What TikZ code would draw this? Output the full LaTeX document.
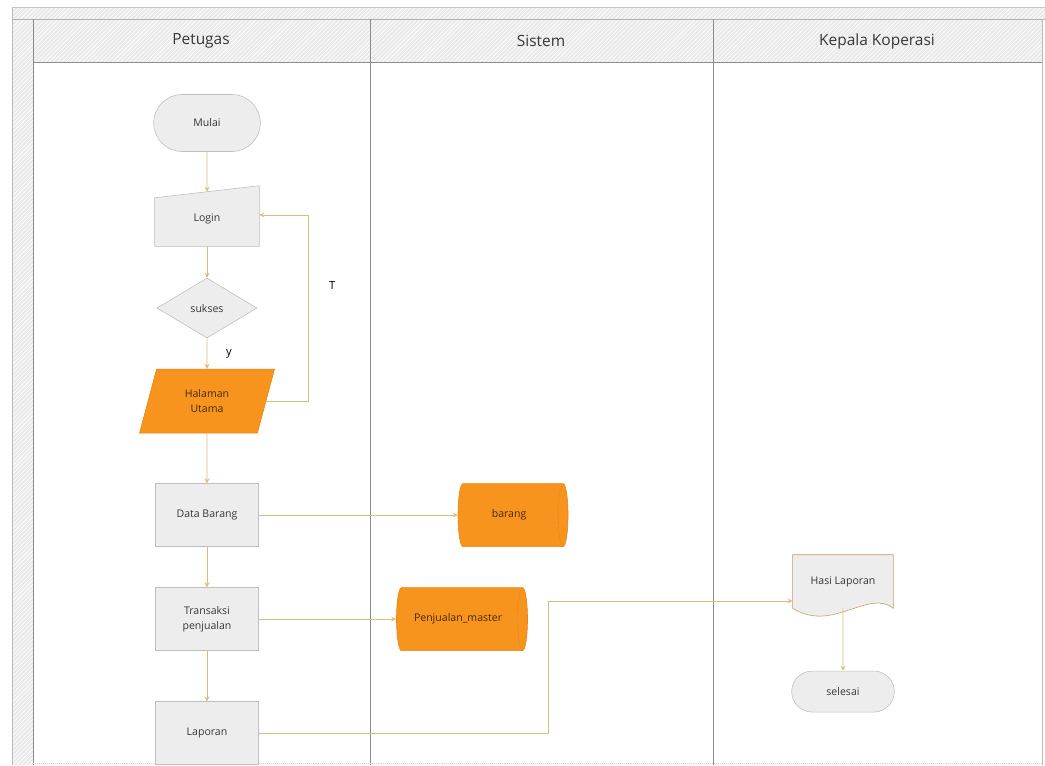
\documentclass[tikz,border=0pt]{standalone}
\usepackage{fontspec}
\setmainfont{Open Sans}
\usetikzlibrary{shapes, arrows, calc, patterns, backgrounds}
\definecolor{laneline}{RGB}{140,140,140}
\definecolor{headfill}{RGB}{234,234,234}
\definecolor{boxfill}{RGB}{237,237,237}
\definecolor{boxline}{RGB}{190,190,190}
\definecolor{storefill}{RGB}{247,148,30}
\definecolor{storeline}{RGB}{232,132,22}
\definecolor{flowline}{RGB}{216,190,122}
\definecolor{docline}{RGB}{200,155,95}
\definecolor{textcol}{RGB}{55,55,55}
\definecolor{storetext}{RGB}{70,40,5}
\tikzstyle{startstop} = [rounded rectangle, minimum width=2.9cm, minimum height=1.425cm, text centered, draw=boxline, fill=boxfill, text=textcol, font=\fontsize{7.5}{10}\selectfont]
\tikzstyle{manualin} = [rectangle, minimum width=2.6cm, minimum height=1.35cm, text centered, text=textcol, font=\fontsize{7.5}{10}\selectfont]
\tikzstyle{decision} = [diamond, minimum width=2.5cm, minimum height=1.5cm, inner sep=0pt, text centered, draw=boxline, fill=boxfill, text=textcol, font=\fontsize{7.5}{10}\selectfont]
\tikzstyle{io} = [trapezium, trapezium left angle=62, trapezium right angle=118, trapezium stretches body, minimum width=3.375cm, minimum height=1.6cm, align=center, draw=storeline, fill=storefill, text=storetext, font=\fontsize{7.5}{10.5}\selectfont]
\tikzstyle{process} = [rectangle, minimum width=2.575cm, minimum height=1.575cm, align=center, draw=boxline, fill=boxfill, text=textcol, font=\fontsize{7.5}{10.5}\selectfont]
\tikzstyle{store} = [cylinder, shape aspect=0.5, minimum height=2.75cm, minimum width=1.575cm, cylinder uses custom fill, cylinder body fill=storefill, cylinder end fill=storefill, draw=storeline, text=storetext, font=\fontsize{7.5}{10}\selectfont]
\tikzstyle{docu} = [rectangle, minimum width=2.5cm, minimum height=1.325cm, text centered, text=textcol, font=\fontsize{7.5}{10}\selectfont]
\tikzstyle{lanehead} = [text=textcol, font=\fontsize{11}{13}\selectfont]
\tikzstyle{edge} = [draw=flowline, line width=0.6pt, ->, >=stealth]
\tikzstyle{edgelabel} = [text=black, font=\fontsize{8}{10}\selectfont]
\begin{document}
\begin{tikzpicture}[x=0.025cm, y=-0.025cm, node distance=2.4cm]
\useasboundingbox (0,0) rectangle (1045,765);

\fill[headfill] (12,7) rectangle (1045,19);
\fill[headfill] (12,19) rectangle (33,765);
\fill[headfill] (33,19) rectangle (1042,62);
\fill[pattern=north east lines, pattern color=white] (12,7) rectangle (1045,19);
\fill[pattern=north east lines, pattern color=white] (12,19) rectangle (33,765);
\fill[pattern=north east lines, pattern color=white] (33,19) rectangle (1042,62);
\draw[laneline!50] (12,7) -- (1045,7);
\draw[laneline!70] (12,19) -- (1045,19);
\draw[laneline!60] (12,7) -- (12,765);
\draw[laneline] (33,19) -- (33,765);
\draw[laneline] (370,19) -- (370,765);
\draw[laneline] (713,19) -- (713,765);
\draw[laneline!60] (1042,19) -- (1042,765);
\draw[laneline] (33,62) -- (1042,62);
\draw[laneline!40, densely dotted] (33,763) -- (1042,763);

\node (h1) [lanehead] at (201,41) {Petugas};
\node (h2) [lanehead] at (541,41) {Sistem};
\node (h3) [lanehead] at (877,41) {Kepala Koperasi};

\node (0) [startstop] at (207,123) {Mulai};
\node (1) [manualin, below of=0] {Login};
\node (2) [decision, yshift=0.175cm, below of=1] {sukses};
\node (3) [io, yshift=0.075cm, below of=2] {Halaman\\Utama};
\node (4) [process, yshift=-0.45cm, below of=3] {Data Barang};
\node (5) [process, yshift=-0.2cm, below of=4] {Transaksi\\penjualan};
\node (6) [process, yshift=-0.45cm, below of=5] {Laporan};
\node (7) [store, node distance=7.55cm, right of=4] {barang};
\node (8) [store, minimum height=3.275cm, node distance=6.275cm, right of=5] {Penjualan\_master};
\node (9) [docu] at (843,581.5) {Hasi Laporan};
\node (10) [startstop, minimum width=2.8cm, minimum height=1.025cm, node distance=2.75cm, below of=9] {selesai};

\begin{scope}[on background layer]
\filldraw[draw=boxline, fill=boxfill] (1.south west) -- (1.south east) -- ($(1.north east)+(0,-6)$) -- ($(1.north west)+(0,6)$) -- cycle;
\filldraw[draw=docline, fill=boxfill] (9.north west) -- (9.north east) -- (9.south east) .. controls ($(9.south east)+(-25,-20)$) and ($(9.south west)+(40,25)$) .. (9.south west) -- cycle;
\end{scope}

\coordinate (c1) at (548,601);
\coordinate (c2) at (308,215);

\draw [edge] (0) -- (1);
\draw [edge] (1) -- (2);
\draw [edge] (2) -- node[edgelabel, anchor=west, xshift=0.35cm]{y} (3);
\draw [edge] (3) -| node[edgelabel, anchor=west, pos=0.81, xshift=0.4cm]{T} (c2) -- (c2 -| 1.east);
\draw [edge] (3) -- (4);
\draw [edge] (4) -- (7);
\draw [edge] (4) -- (5);
\draw [edge] (5) -- (8);
\draw [edge] (5) -- (6);
\draw [edge] (6) -| (c1) -- (c1 -| 9.west);
\draw [edge] (9) -- (10);

\end{tikzpicture}
\end{document}
